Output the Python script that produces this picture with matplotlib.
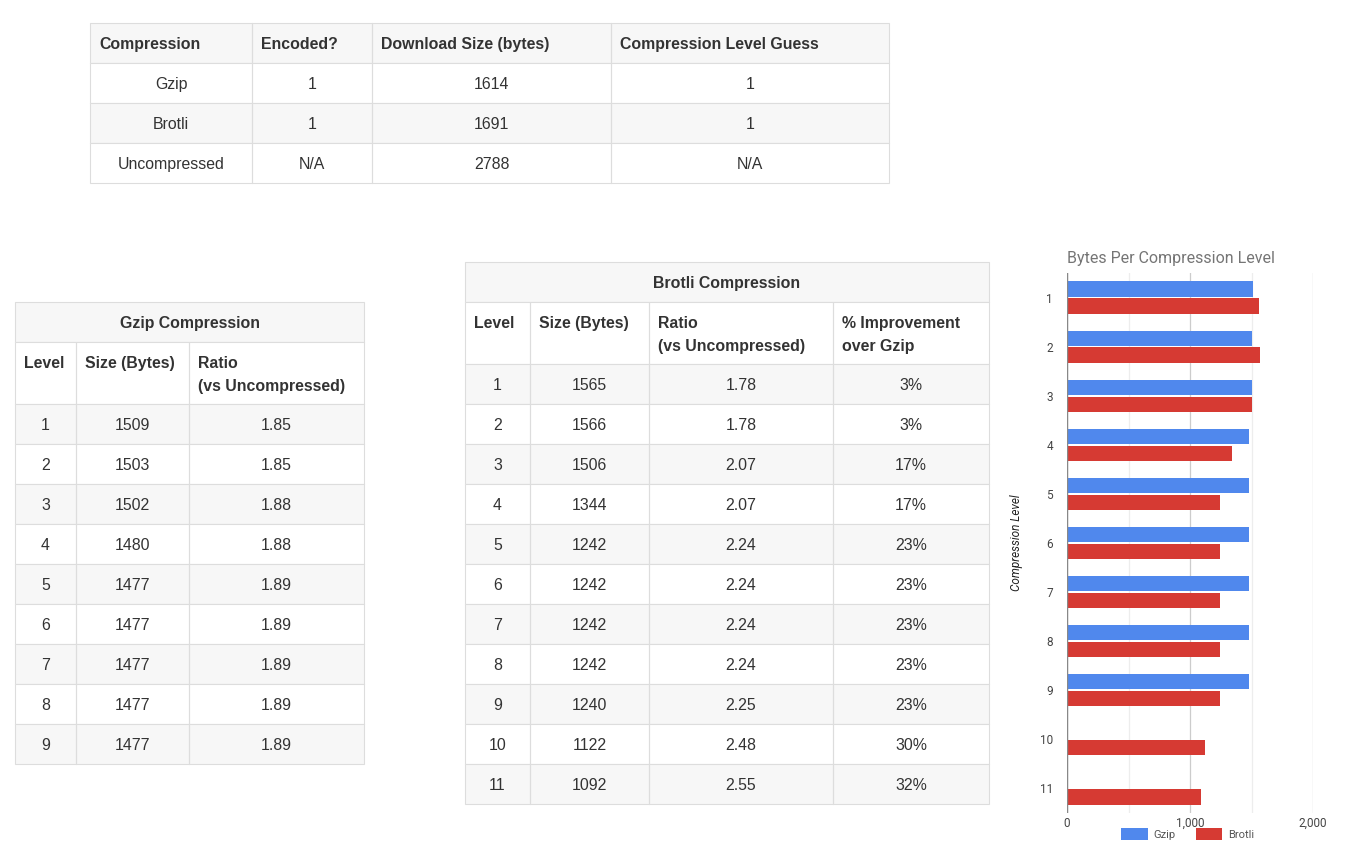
import numpy as np
import matplotlib
matplotlib.use("Agg")
import matplotlib.pyplot as plt
from matplotlib.patches import Rectangle

# summary table
summary_header = ['Compression', 'Encoded?', 'Download Size (bytes)', 'Compression Level Guess']
summary_names = ['Gzip', 'Brotli', 'Uncompressed']
summary_encoded = ['1', '1', 'N/A']
summary_sizes = [1614, 1691, 2788]
summary_guess = ['1', '1', 'N/A']

# gzip levels
gzip_header = ['Level', 'Size (Bytes)', 'Ratio\n(vs Uncompressed)']
gzip_levels = [1, 2, 3, 4, 5, 6, 7, 8, 9]
gzip_sizes = [1509, 1503, 1502, 1480, 1477, 1477, 1477, 1477, 1477]
gzip_ratios = [1.85, 1.85, 1.88, 1.88, 1.89, 1.89, 1.89, 1.89, 1.89]

# brotli levels
brotli_header = ['Level', 'Size (Bytes)', 'Ratio\n(vs Uncompressed)', '% Improvement\nover Gzip']
brotli_levels = [1, 2, 3, 4, 5, 6, 7, 8, 9, 10, 11]
brotli_sizes = [1565, 1566, 1506, 1344, 1242, 1242, 1242, 1242, 1240, 1122, 1092]
brotli_ratios = [1.78, 1.78, 2.07, 2.07, 2.24, 2.24, 2.24, 2.24, 2.25, 2.48, 2.55]
brotli_improve = [3, 3, 17, 17, 23, 23, 23, 23, 23, 30, 32]

W, H = 1360, 844
GRAY = '#f7f7f7'
LINE = '#dddddd'
TXT = '#333333'
TFONT = ['Liberation Sans', 'DejaVu Sans']
FS = 11.4

fig = plt.figure(figsize=(W / 100, H / 100), dpi=100)
bg = fig.add_axes([0, 0, 1, 1])
bg.set_xlim(0, W)
bg.set_ylim(H, 0)
bg.axis('off')


def draw_table(ax, x0, y0, col_w, rows):
    # rows: (texts, height, fill, bold, align); a str in texts spans all columns
    edges = np.concatenate([[x0], x0 + np.cumsum(col_w)])
    y = y0
    for texts, h, fill, bold, align in rows:
        ax.add_patch(Rectangle((edges[0], y), edges[-1] - edges[0], h,
                               facecolor=fill, edgecolor='none'))
        weight = 'bold' if bold else 'normal'
        if isinstance(texts, str):
            ax.add_patch(Rectangle((edges[0], y), edges[-1] - edges[0], h,
                                   facecolor='none', edgecolor=LINE, lw=0.8))
            ax.text((edges[0] + edges[-1]) / 2, y + h / 2 + 1.5, texts, ha='center',
                    va='center', fontsize=FS, color=TXT, family=TFONT, fontweight=weight)
        else:
            for i, t in enumerate(texts):
                ax.add_patch(Rectangle((edges[i], y), edges[i + 1] - edges[i], h,
                                       facecolor='none', edgecolor=LINE, lw=0.8))
                for k, line in enumerate(str(t).split('\n')):
                    if align == 'left':
                        tx, ha, ty = edges[i] + 9, 'left', y + 21.5 + k * 23
                    else:
                        tx, ha, ty = (edges[i] + edges[i + 1]) / 2, 'center', y + h / 2 + 1.5
                    ax.text(tx, ty, line, ha=ha, va='center', fontsize=FS, color=TXT,
                            family=TFONT, fontweight=weight)
        y += h


# summary table
rows = [(summary_header, 40, GRAY, True, 'left')]
for i in range(len(summary_names)):
    rows.append(([summary_names[i], summary_encoded[i], str(summary_sizes[i]), summary_guess[i]],
                 40, GRAY if i % 2 == 1 else 'white', False, 'center'))
draw_table(bg, 90, 23, [162, 120, 239, 278], rows)

# gzip table
rows = [('Gzip Compression', 40, GRAY, True, 'center'),
        (gzip_header, 62, 'white', True, 'left')]
for i in range(len(gzip_levels)):
    rows.append(([gzip_levels[i], gzip_sizes[i], f'{gzip_ratios[i]:.2f}'],
                 40, GRAY if i % 2 == 0 else 'white', False, 'center'))
draw_table(bg, 15, 302, [61, 113, 175], rows)

# brotli table
rows = [('Brotli Compression', 40, GRAY, True, 'center'),
        (brotli_header, 62, 'white', True, 'left')]
for i in range(len(brotli_levels)):
    rows.append(([brotli_levels[i], brotli_sizes[i], f'{brotli_ratios[i]:.2f}', f'{brotli_improve[i]}%'],
                 40, GRAY if i % 2 == 0 else 'white', False, 'center'))
draw_table(bg, 465, 262, [65, 119, 184, 156], rows)

# bar chart
plt.rcParams['font.family'] = ['Roboto', 'DejaVu Sans']
ax = fig.add_axes([1067 / W, 1 - 813 / H, 246 / W, 540 / H])
y_gz = np.array(gzip_levels, dtype=float)
y_br = np.array(brotli_levels, dtype=float)
ax.barh(y_gz - 0.172, gzip_sizes, height=0.31, color='#5088ed', label='Gzip', zorder=3)
ax.barh(y_br + 0.172, brotli_sizes, height=0.31, color='#d63a33', label='Brotli', zorder=3)
ax.set_xlim(0, 2000)
ax.set_ylim(11.5, 0.5)
ax.set_xticks([0, 1000, 2000])
ax.set_xticklabels(['0', '1,000', '2,000'])
ax.set_xticks([500, 1500], minor=True)
ax.set_yticks(brotli_levels)
ax.grid(axis='x', which='major', color='#cccccc', lw=0.9, zorder=0)
ax.grid(axis='x', which='minor', color='#ededed', lw=0.9, zorder=0)
ax.axvline(0, color='#888888', lw=1, zorder=4)
for s in ax.spines.values():
    s.set_visible(False)
ax.tick_params(length=0, labelsize=8.5, labelcolor='#444444')
ax.tick_params(axis='x', pad=3)
ax.tick_params(axis='y', pad=10)
ax.tick_params(which='minor', length=0)
ax.set_ylabel('Compression Level', fontsize=8.5, style='italic', color='#222222', labelpad=12)
ax.set_title('Bytes Per Compression Level', loc='left', fontsize=11.5, color='#757575', pad=7)
ax.legend(loc='upper center', bbox_to_anchor=(0.49, -0.02), ncol=2, frameon=False,
          fontsize=8, labelcolor='#555555', handlelength=2.4, handleheight=1.2,
          columnspacing=1.8, handletextpad=0.5, borderaxespad=0)

fig.savefig('out.png', dpi=100, facecolor='white')
